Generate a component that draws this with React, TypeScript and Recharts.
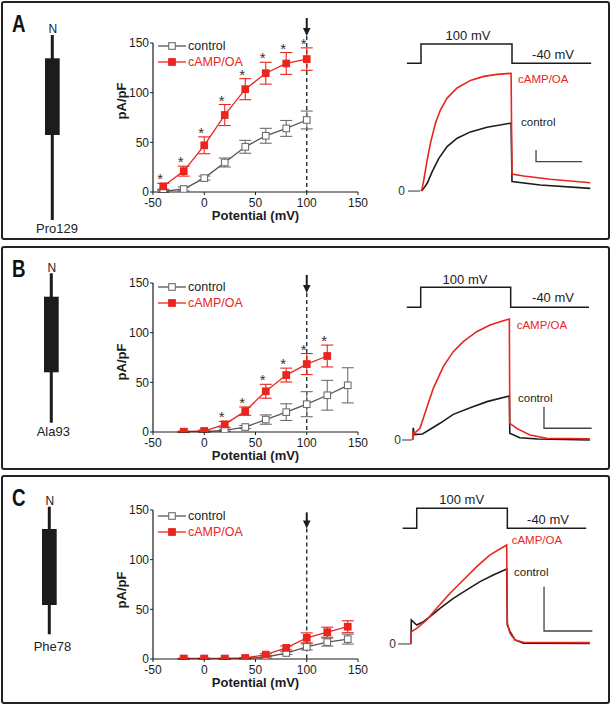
import React from "react";
import {
  LineChart, Line, XAxis, YAxis, ErrorBar, ReferenceLine, ReferenceDot, Legend,
} from "recharts";

const FONT = '"Liberation Sans", Arial, Helvetica, sans-serif';
const RED = "#e8261e";
const INK = "#1c1c1c";
const GREY = "#6e6e6e";

// I-V curves: current density (pA/pF) vs test potential (mV)
const potentialsA = [-40, -20, 0, 20, 40, 60, 80, 100];
const controlA = [0.7, 3, 14, 29.7, 45.5, 56.6, 64, 72.5];
const controlErrA = [1, 2, 2, 4.5, 6.5, 7.5, 8, 9];
const campA = [5.7, 21, 47, 77.5, 103.5, 119.6, 129.4, 133.8];
const campErrA = [3, 5, 8.5, 10.6, 10.6, 11, 11, 11.3];
const starsA = [1, 1, 1, 1, 1, 1, 1, 1];

const potentialsB = [-20, 0, 20, 40, 60, 80, 100, 120, 140];
const controlB = [0, 0.3, 1.7, 5, 12.5, 20, 28, 37, 47];
const controlErrB = [0.5, 0.5, 1, 1.5, 4.7, 8.4, 12.6, 15, 17.7];
const campB = [0.3, 1, 7.7, 21, 41, 57.3, 68.4, 76.5, null];
const campErrB = [0.5, 1, 3, 4.2, 7, 7, 10.6, 11, null];
const starsB = [0, 0, 1, 1, 1, 1, 1, 1, 0];

const potentialsC = [-20, 0, 20, 40, 60, 80, 100, 120, 140];
const controlC = [0, 0, 0, 0.5, 2, 6, 12.2, 17, 20];
const controlErrC = [0.3, 0.3, 0.3, 0.5, 1, 1.5, 3, 4, 5];
const campC = [0.5, 0.5, 0.5, 1, 4.4, 11.2, 21.3, 27, 32.5];
const campErrC = [0.3, 0.3, 0.3, 0.5, 1, 2, 5, 5, 6];
const starsC = [0, 0, 0, 0, 0, 0, 0, 0, 0];

const xTicks = [-50, 0, 50, 100, 150];
const yTicks = [0, 50, 100, 150];

// voltage protocol (time in % of the 100 mV step, mV)
const stepTime = [-15.5, 0, 0, 100, 100, 187];
const stepVolt = [-40, -40, 100, 100, -40, -40];

// current traces, arbitrary units (cAMP/OA plateau ~ 100)
const campTimeA = [0, 1.3, 3.1, 6.8, 10.4, 15.9, 21.4, 28.7, 39.7, 54.3, 68.9, 83.6, 99, 100, 112.8, 142, 186];
const campCurA = [0, 2.3, 9.4, 26.5, 40.8, 57.9, 69.2, 79.2, 87.8, 94.3, 97.7, 99.4, 100.3, 14.5, 12.8, 10, 7.1];
const ctrlTimeA = [0.5, 3, 6.8, 12.3, 19.6, 28.7, 39.7, 54.3, 72.6, 99, 100, 131, 186];
const ctrlCurA = [0, 2.3, 6.6, 16.5, 27.9, 37.9, 45, 50.4, 54.4, 57.9, 8, 5.1, 2.3];
const zeroTimeA = [-14.3, -1];
const scaleTimeA = [126.4, 126.4, 177];
const scaleCurA = [35, 25, 25];

const campTimeB = [-8.9, -8.6, -7.5, -0.8, 6.6, 14, 25.1, 36.2, 47.3, 62.2, 77, 91.8, 98.5, 99, 106.7, 121.4, 140, 188];
const campCurB = [0, 7, 5, 9.6, 26.2, 42.7, 60.6, 73, 81.2, 89.5, 95, 98.6, 100, 13.8, 9.6, 4.1, 1.4, 1];
const ctrlTimeB = [-8.9, -8.3, -7, 2, 21.4, 36.2, 55, 73.7, 98.5, 99, 110, 130, 188];
const ctrlCurB = [0, 10, 4.5, 5, 13.8, 21.2, 26.7, 31.7, 36.4, 5.5, 1.9, 0.8, 0];
const zeroTimeB = [-20.8, -9.7];
const scaleTimeB = [137, 137, 190];
const scaleCurB = [27.5, 9.7, 9.7];

const campTimeC = [-6.3, -6, 0, 11, 22, 36.8, 51.4, 66.2, 80.9, 99.3, 100, 103, 108.5, 117.7, 191];
const campCurC = [0, 12.3, 15.7, 24, 35.8, 50.9, 64.2, 77.5, 89.3, 99.3, 20.8, 10.7, 4, 1.7, 1.3];
const ctrlTimeC = [-6.3, -6, 0, 7.4, 14.7, 25.7, 40.4, 55.2, 69.9, 84.5, 99.3, 100, 103, 108.5, 117.7, 191];
const ctrlCurC = [0, 24, 19, 22.4, 27.4, 35.8, 45.8, 54.2, 62.5, 69.2, 75.2, 19, 12.4, 4, 0.7, 0.5];
const zeroTimeC = [-20.6, -6.6];
const scaleTimeC = [140.5, 140.5, 193.8];
const scaleCurC = [57.5, 13, 13];

const pts = (ts: number[], ys: number[]) => ts.map((t, i) => ({ t, y: ys[i] }));

function square(fill: string, stroke: string) {
  return (props: any) => {
    const { cx, cy, index } = props;
    if (cx == null || cy == null || isNaN(cy)) return <g key={`n${index}`} />;
    return <rect key={`s${index}`} x={cx - 3.3} y={cy - 3.3} width={6.6} height={6.6} fill={fill} stroke={stroke} strokeWidth={1.1} />;
  };
}

const starShape = (props: any) => (
  <text x={props.cx - 3} y={props.cy + 8} textAnchor="middle" fontFamily={FONT} fontSize={15} fill="#333">*</text>
);

const renderLegend = () => (
  <div style={{ fontFamily: FONT, fontSize: 12.5, lineHeight: "16px" }}>
    <div style={{ display: "flex", alignItems: "center", color: INK }}>
      <svg width={28} height={10}>
        <line x1={0} y1={5} x2={28} y2={5} stroke="#555" strokeWidth={1.3} />
        <rect x={10.7} y={1.7} width={6.6} height={6.6} fill="#fff" stroke={GREY} strokeWidth={1.1} />
      </svg>
      <span style={{ marginLeft: 2 }}>control</span>
    </div>
    <div style={{ display: "flex", alignItems: "center", color: RED }}>
      <svg width={28} height={10}>
        <line x1={0} y1={5} x2={28} y2={5} stroke={RED} strokeWidth={1.3} />
        <rect x={10.7} y={1.7} width={6.6} height={6.6} fill={RED} stroke={RED} strokeWidth={1.1} />
      </svg>
      <span style={{ marginLeft: 2 }}>cAMP/OA</span>
    </div>
  </div>
);

const TOPM = 25;

function IVChart(p: any) {
  const data = p.potentials.map((x: number, i: number) => ({
    x,
    ctrl: p.control[i],
    ctrlErr: p.controlErr[i],
    camp: p.camp[i],
    campErr: p.campErr[i],
    star: p.stars[i] && p.camp[i] != null ? p.camp[i] + p.campErr[i] + 7 : null,
  }));
  const arrow = (sp: any) => (
    <g>
      <line x1={sp.cx} y1={sp.cy - p.arrowLen} x2={sp.cx} y2={sp.cy - 6} stroke={INK} strokeWidth={2} />
      <path d={`M${sp.cx - 3.8},${sp.cy - 8} L${sp.cx + 3.8},${sp.cy - 8} L${sp.cx},${sp.cy} Z`} fill={INK} />
    </g>
  );
  const xTitle = (lp: any) => {
    const vb = lp.viewBox;
    return (
      <text x={vb.x + vb.width / 2} y={vb.y + 28} textAnchor="middle" fontFamily={FONT} fontWeight="bold" fontSize={13} fill={INK}>
        Potential (mV)
      </text>
    );
  };
  const yTitle = (lp: any) => {
    const vb = lp.viewBox;
    const cx = vb.x + vb.width - 32;
    const cy = p.yTitleY + TOPM;
    return (
      <text x={cx} y={cy} transform={`rotate(-90 ${cx} ${cy})`} textAnchor="middle" dominantBaseline="central" fontFamily={FONT} fontWeight="bold" fontSize={13} fill={INK}>
        pA/pF
      </text>
    );
  };
  return (
    <div style={{ position: "absolute", left: 100, top: p.plotTop - TOPM }}>
      <LineChart width={270} height={TOPM + 149 + 40} data={data} margin={{ top: TOPM, right: 12, bottom: 20, left: 0 }}>
        <XAxis
          type="number" dataKey="x" domain={[-50, 150]} ticks={xTicks} allowDataOverflow height={20}
          tickSize={3} tickMargin={3} axisLine={{ stroke: INK, strokeWidth: 1.2 }} tickLine={{ stroke: INK }}
          tick={{ fill: INK, fontSize: 12, fontFamily: FONT }} label={xTitle}
        />
        <YAxis
          type="number" domain={[0, 150]} ticks={yTicks} allowDataOverflow width={53}
          tickSize={3} tickMargin={1} axisLine={{ stroke: INK, strokeWidth: 1.2 }} tickLine={{ stroke: INK }}
          tick={{ fill: INK, fontSize: 12, fontFamily: FONT }} label={yTitle}
        />
        <ReferenceLine segment={[{ x: 100, y: p.dashTop }, { x: 100, y: 0 }]} stroke={INK} strokeWidth={1.3} strokeDasharray="4 3" ifOverflow="visible" />
        <ReferenceDot x={100} y={p.arrowTip} r={0} ifOverflow="visible" shape={arrow} />
        <Line dataKey="ctrl" stroke="#555" strokeWidth={1.3} dot={square("#fff", GREY)} activeDot={false} isAnimationActive={false}>
          <ErrorBar dataKey="ctrlErr" width={6} stroke={GREY} strokeWidth={1.1} direction="y" />
        </Line>
        <Line dataKey="camp" stroke={RED} strokeWidth={1.3} dot={square(RED, RED)} activeDot={false} isAnimationActive={false}>
          <ErrorBar dataKey="campErr" width={6} stroke={RED} strokeWidth={1.1} direction="y" />
        </Line>
        {data.filter((d: any) => d.star != null).map((d: any) => (
          <ReferenceDot key={`star${d.x}`} x={d.x} y={d.star} r={0} ifOverflow="visible" shape={starShape} />
        ))}
        <Legend content={renderLegend} layout="vertical" align="center" verticalAlign="middle" wrapperStyle={{ left: 58, top: TOPM + p.legendDy, width: 110 }} />
      </LineChart>
    </div>
  );
}

function TraceChart(p: any) {
  const protocol = pts(stepTime, stepVolt);
  return (
    <div style={{ position: "absolute", left: 390, top: p.top }}>
      <LineChart width={215} height={p.height} margin={{ top: 0, right: 0, bottom: 0, left: 0 }}>
        <XAxis type="number" dataKey="t" domain={p.tDomain} hide allowDataOverflow />
        <YAxis yAxisId="i" type="number" domain={p.iDomain} hide allowDataOverflow />
        <YAxis yAxisId="v" type="number" domain={p.vDomain} hide allowDataOverflow />
        <Line yAxisId="v" data={protocol} dataKey="y" type="linear" stroke={INK} strokeWidth={1.5} dot={false} activeDot={false} isAnimationActive={false} />
        <Line yAxisId="i" data={p.zero} dataKey="y" type="linear" stroke="#555" strokeWidth={1.2} dot={false} activeDot={false} isAnimationActive={false} />
        <Line yAxisId="i" data={p.control} dataKey="y" type="linear" stroke={INK} strokeWidth={1.6} dot={false} activeDot={false} isAnimationActive={false} />
        <Line yAxisId="i" data={p.camp} dataKey="y" type="linear" stroke={RED} strokeWidth={1.6} dot={false} activeDot={false} isAnimationActive={false} />
        <Line yAxisId="i" data={p.scale} dataKey="y" type="linear" stroke="#444" strokeWidth={1.3} dot={false} activeDot={false} isAnimationActive={false} />
      </LineChart>
    </div>
  );
}

function Channel({ x, nY, top, bottom, boxTop, boxBottom, name, nameX, nameY }: any) {
  return (
    <g>
      <text x={x + 0.5} y={nY} textAnchor="middle" fontFamily={FONT} fontSize={12} fill="#222">N</text>
      <line x1={x} y1={top} x2={x} y2={bottom} stroke={INK} strokeWidth={3} />
      <rect x={x - 7.3} y={boxTop} width={14.7} height={boxBottom - boxTop} fill={INK} />
      <text x={nameX} y={nameY} textAnchor="middle" fontFamily={FONT} fontSize={13} fill="#222">{name}</text>
    </g>
  );
}

function TraceLabels({ step, low, campY, campX, ctrlY, ctrlX, zeroX, zeroY }: any) {
  return (
    <g fontFamily={FONT}>
      <text x={step[0]} y={step[1]} textAnchor="middle" fontSize={13} fill={INK}>100 mV</text>
      <text x={low[0]} y={low[1]} textAnchor="middle" fontSize={13} fill={INK}>-40 mV</text>
      <text x={campX} y={campY} fontSize={11.5} fill={RED}>cAMP/OA</text>
      <text x={ctrlX} y={ctrlY} fontSize={11.5} fill={INK}>control</text>
      <text x={zeroX} y={zeroY} textAnchor="end" fontSize={12} fill="#333">0</text>
    </g>
  );
}

function PanelLetter({ x, y, children }: any) {
  return (
    <text transform={`translate(${x},${y}) scale(0.78,1)`} x={0} y={0} fontFamily={FONT} fontWeight="bold" fontSize={24} fill="#111">
      {children}
    </text>
  );
}

export default function App() {
  return (
    <div style={{ position: "absolute", left: 0, top: 0, width: 614, height: 706, background: "#fff", fontFamily: FONT }}>
      <svg width={614} height={706} style={{ position: "absolute", left: 0, top: 0 }}>
        <rect x={2} y={2} width={607} height={237} rx={2} fill="none" stroke="#222" strokeWidth={2} />
        <rect x={2} y={247} width={607} height={222} rx={2} fill="none" stroke="#222" strokeWidth={2} />
        <rect x={2} y={476} width={607} height={227} rx={2} fill="none" stroke="#222" strokeWidth={2} />
        <PanelLetter x={12} y={32}>A</PanelLetter>
        <PanelLetter x={12} y={277}>B</PanelLetter>
        <PanelLetter x={12} y={506}>C</PanelLetter>
        <Channel x={52.3} nY={33} top={35} bottom={220} boxTop={58.3} boxBottom={135} name="Pro129" nameX={57} nameY={233} />
        <Channel x={51.3} nY={271.7} top={273.3} bottom={422.7} boxTop={296.7} boxBottom={372.3} name="Ala93" nameX={53.3} nameY={436} />
        <Channel x={49.3} nY={505} top={506.7} bottom={634.3} boxTop={529} boxBottom={605} name="Phe78" nameX={52.5} nameY={651} />
        <TraceLabels step={[468, 40]} low={[553, 59]} campX={518} campY={83} ctrlX={521} ctrlY={126} zeroX={405} zeroY={195} />
        <TraceLabels step={[465, 284]} low={[553, 302]} campX={516.7} campY={329} ctrlX={518} ctrlY={401.7} zeroX={401} zeroY={444} />
        <TraceLabels step={[461.7, 504]} low={[548, 524]} campX={511.7} campY={544} ctrlX={514} ctrlY={575.7} zeroX={396} zeroY={648} />
      </svg>

      <IVChart plotTop={43} potentials={potentialsA} control={controlA} controlErr={controlErrA} camp={campA} campErr={campErrA}
        stars={starsA} dashTop={157} arrowTip={157} arrowLen={19} yTitleY={58} legendDy={-5} />
      <IVChart plotTop={283} potentials={potentialsB} control={controlB} controlErr={controlErrB} camp={campB} campErr={campErrB}
        stars={starsB} dashTop={140} arrowTip={140} arrowLen={18} yTitleY={79} legendDy={-4} />
      <IVChart plotTop={510} potentials={potentialsC} control={controlC} controlErr={controlErrC} camp={campC} campErr={campErrC}
        stars={starsC} dashTop={131.5} arrowTip={131.5} arrowLen={16} yTitleY={80} legendDy={-2} />

      <TraceChart top={25} height={180} tDomain={[-34.07, 202.2]} iDomain={[-11.9, 141.5]} vDomain={[-1067.6, 237.8]}
        camp={pts(campTimeA, campCurA)} control={pts(ctrlTimeA, ctrlCurA)}
        zero={pts(zeroTimeA, [0, 0])} scale={pts(scaleTimeA, scaleCurA)} />
      <TraceChart top={265} height={190} tDomain={[-34.1, 204.8]} iDomain={[-12.4, 144.6]} vDomain={[-1073.6, 256.1]}
        camp={pts(campTimeB, campCurB)} control={pts(ctrlTimeB, ctrlCurB)}
        zero={pts(zeroTimeB, [0, 0])} scale={pts(scaleTimeB, scaleCurB)} />
      <TraceChart top={495} height={170} tDomain={[-29.5, 207.8]} iDomain={[-21.1, 149.4]} vDomain={[-996.6, 193.1]}
        camp={pts(campTimeC, campCurC)} control={pts(ctrlTimeC, ctrlCurC)}
        zero={pts(zeroTimeC, [0, 0])} scale={pts(scaleTimeC, scaleCurC)} />
    </div>
  );
}
